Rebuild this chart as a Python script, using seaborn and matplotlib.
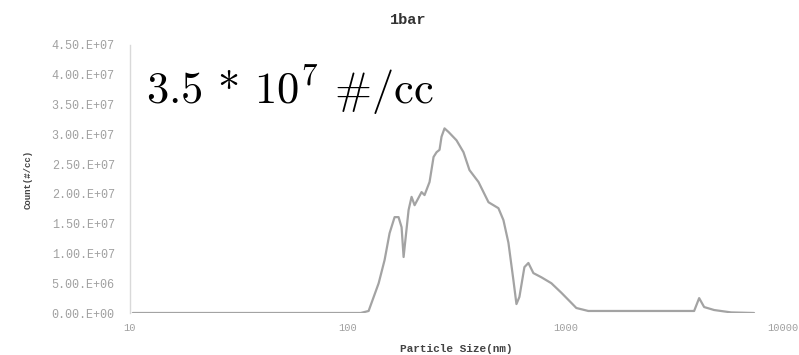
import numpy as np
import pandas as pd
import seaborn as sns
import matplotlib
matplotlib.use("Agg")
import matplotlib.pyplot as plt
from matplotlib.ticker import FixedLocator, FixedFormatter, NullLocator

# Particle size distribution at 1 bar
particle_size_nm = [10.3, 20.0, 36.3, 70.0, 114.7, 124.8, 138.8, 147.8, 155.8, 164.3,
                    171.3, 176.9, 180.7, 183.6, 190.5, 196.6, 203.0, 218.5, 225.5, 237.8,
                    248.1, 256.1, 264.3, 269.9, 278.6, 290.6, 316.2, 340.5, 362.7, 399.0,
                    443.6, 492.7, 519.5, 547.7, 577.4, 596.2, 615.2, 648.6, 676.6, 713.2,
                    776.0, 862.6, 958.8, 1065.5, 1123.4, 1275.5, 2073.0, 3906.0, 4119.0,
                    4342.0, 4826.0, 5774.0, 7362.0]
count_per_cc = [0.0, 0.0, 0.0, 0.0, 0.0, 3.4e5, 5.0e6, 8.9e6, 1.34e7, 1.61e7,
                1.61e7, 1.44e7, 9.4e6, 1.18e7, 1.73e7, 1.95e7, 1.81e7, 2.03e7, 1.98e7, 2.20e7,
                2.62e7, 2.70e7, 2.74e7, 2.96e7, 3.10e7, 3.04e7, 2.90e7, 2.70e7, 2.40e7, 2.20e7,
                1.86e7, 1.76e7, 1.56e7, 1.18e7, 5.5e6, 1.5e6, 2.7e6, 7.7e6, 8.4e6, 6.7e6,
                6.0e6, 5.0e6, 3.4e6, 1.7e6, 8.4e5, 3.4e5, 3.4e5, 3.4e5, 2.5e6,
                1.0e6, 5.0e5, 1.0e5, 0.0]

y_ticks = [0, 5e6, 1e7, 1.5e7, 2e7, 2.5e7, 3e7, 3.5e7, 4e7, 4.5e7]
y_tick_labels = ["0.00.E+00", "5.00.E+06", "1.00.E+07", "1.50.E+07", "2.00.E+07",
                 "2.50.E+07", "3.00.E+07", "3.50.E+07", "4.00.E+07", "4.50.E+07"]
x_ticks = [10, 100, 1000, 10000]
x_tick_labels = ["10", "100", "1000", "10000"]

title_text = "1bar"
x_label = "Particle Size(nm)"
y_label = "Count(#/cc)"
total_label = "3.5 * 10$^7$ #/cc"

df = pd.DataFrame({"size": particle_size_nm, "count": count_per_cc})

sns.set_style("white")
plt.rcParams["mathtext.fontset"] = "cm"

fig = plt.figure(figsize=(7.99, 3.55), dpi=100)
ax = fig.add_axes([130 / 799, 1 - 313 / 355, 653 / 799, 268 / 355])

sns.lineplot(data=df, x="size", y="count", ax=ax, color="#a3a3a3", linewidth=1.6)

ax.set_xscale("log")
ax.set_xlim(10, 10000)
ax.set_ylim(0, 4.5e7)

ax.xaxis.set_major_locator(FixedLocator(x_ticks))
ax.xaxis.set_major_formatter(FixedFormatter(x_tick_labels))
ax.xaxis.set_minor_locator(NullLocator())
ax.yaxis.set_major_locator(FixedLocator(y_ticks))
ax.yaxis.set_major_formatter(FixedFormatter(y_tick_labels))

mono = "Liberation Mono"
for lab in ax.get_yticklabels():
    lab.set_fontfamily(mono)
    lab.set_fontsize(8.5)
    lab.set_color("#a0a0a0")
for lab in ax.get_xticklabels():
    lab.set_fontfamily(mono)
    lab.set_fontsize(7.5)
    lab.set_color("#a0a0a0")
ax.tick_params(axis="both", length=0)
ax.tick_params(axis="y", pad=11)
ax.tick_params(axis="x", pad=7)

ax.set_xlabel(x_label, fontfamily=mono, fontweight="bold", fontsize=8, color="#444444", labelpad=8)
ax.set_ylabel(y_label, fontfamily=mono, fontweight="bold", fontsize=6.5, color="#444444", labelpad=14)

for side in ["top", "right", "bottom"]:
    ax.spines[side].set_visible(False)
ax.spines["left"].set_color("#d9d9d9")
ax.spines["left"].set_linewidth(1.0)

fig.text(408 / 799, 1 - 20 / 355, title_text, ha="center", va="center",
         fontfamily=mono, fontweight="bold", fontsize=11, color="#333333")

fig.text(146 / 799, 1 - 104 / 355, total_label, ha="left", va="baseline",
         fontfamily="cmr10", fontsize=32, color="black")

fig.savefig("out.png", dpi=100)
